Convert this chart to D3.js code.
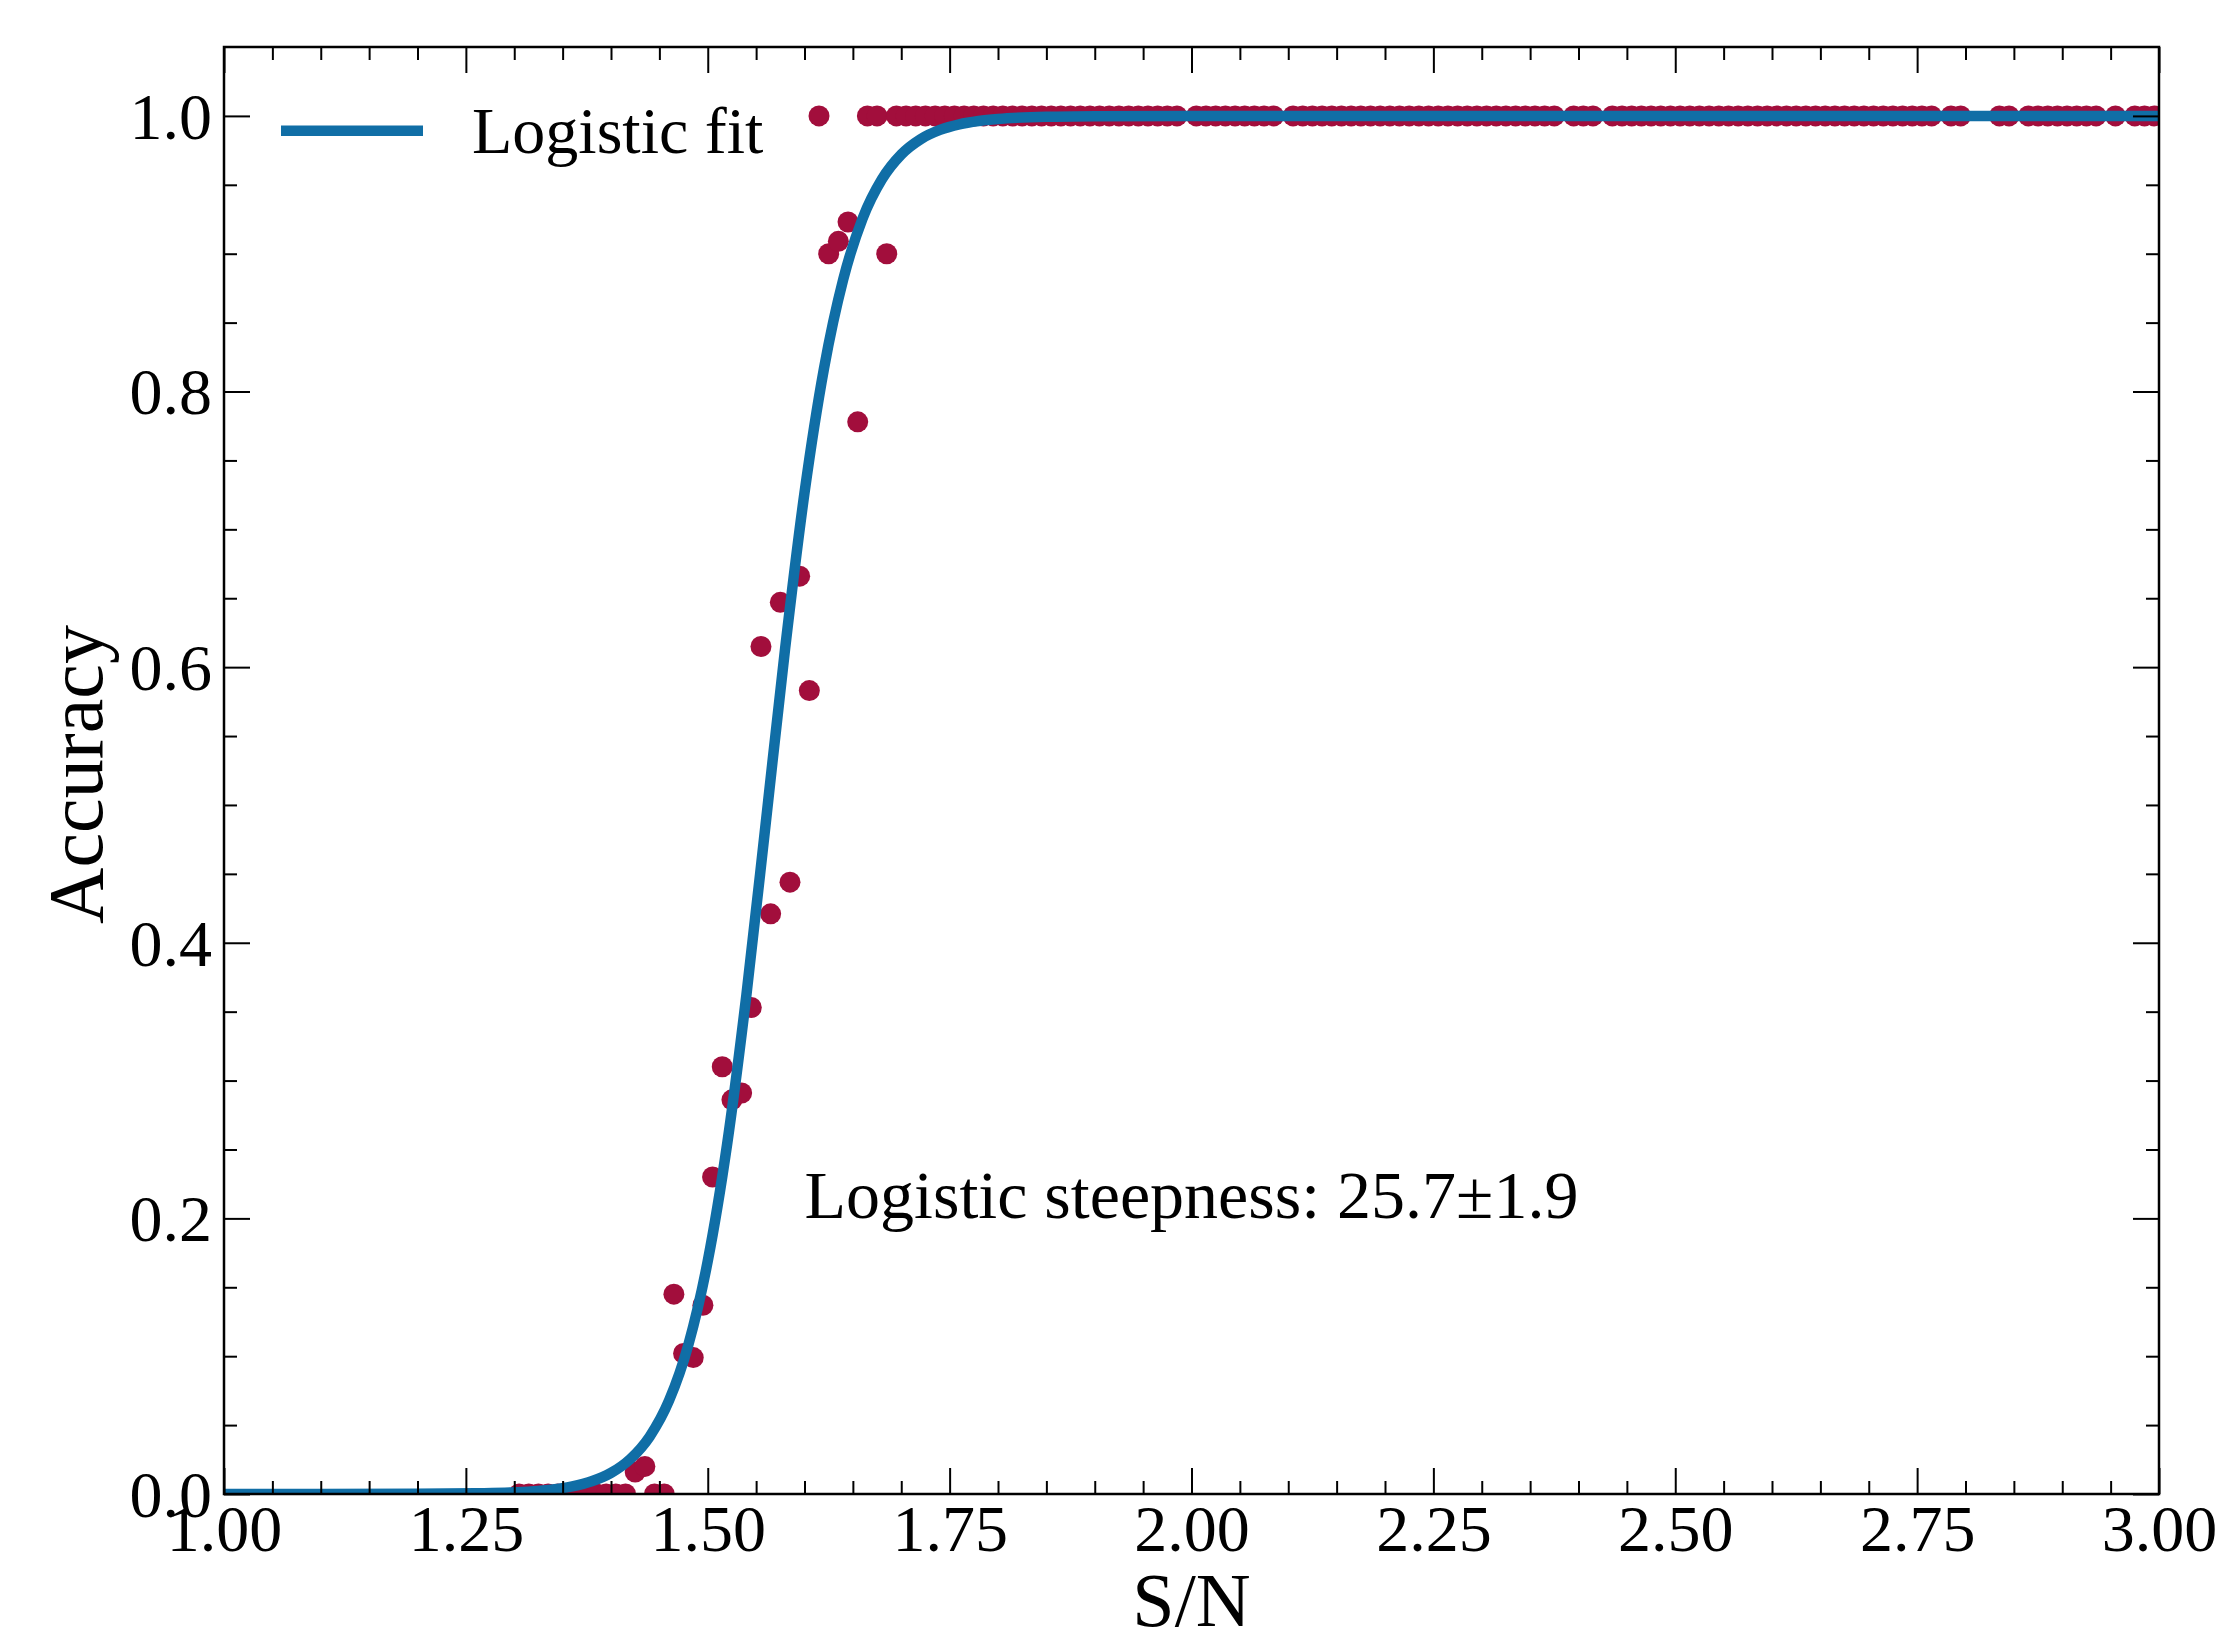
<!DOCTYPE html>
<html>
<head>
<meta charset="utf-8">
<script src="https://cdn.jsdelivr.net/npm/d3@7"></script>
<style>
  body { margin: 0; background: #fff; }
  text { font-family: "Liberation Serif", "DejaVu Serif", serif; fill: #000; }
</style>
</head>
<body>
<div id="chart"></div>
<script>
// measured accuracy below 1.0 (S/N, accuracy)
const partialSnr = [1.305, 1.315, 1.325, 1.335, 1.345, 1.355, 1.365, 1.375, 1.385, 1.395, 1.405, 1.415,
  1.425, 1.435, 1.445, 1.455, 1.465, 1.475, 1.485, 1.495, 1.505, 1.515, 1.525, 1.535, 1.545,
  1.555, 1.565, 1.575, 1.585, 1.595, 1.605, 1.625, 1.635, 1.645, 1.655, 1.685];
const partialAcc = [0, 0, 0, 0, 0, 0, 0, 0, 0, 0, 0, 0,
  0.016, 0.020, 0, 0, 0.145, 0.102, 0.099, 0.137, 0.230, 0.310, 0.286, 0.291, 0.353,
  0.615, 0.421, 0.647, 0.444, 0.666, 0.583, 0.900, 0.909, 0.923, 0.778, 0.900];

// S/N values where accuracy is 1.0
const perfectSnr = [1.615, 1.665, 1.675,
  1.695, 1.705, 1.715, 1.725, 1.735, 1.745, 1.755, 1.765, 1.775, 1.785, 1.795,
  1.805, 1.815, 1.825, 1.835, 1.845, 1.855, 1.865, 1.875, 1.885, 1.895,
  1.905, 1.915, 1.925, 1.935, 1.945, 1.955, 1.965, 1.975, 1.985,
  2.005, 2.015, 2.025, 2.035, 2.045, 2.055, 2.065, 2.075, 2.085,
  2.105, 2.115, 2.125, 2.135, 2.145, 2.155, 2.165, 2.175, 2.185, 2.195,
  2.205, 2.215, 2.225, 2.235, 2.245, 2.255, 2.265, 2.275, 2.285, 2.295,
  2.305, 2.315, 2.325, 2.335, 2.345, 2.355, 2.365, 2.375,
  2.395, 2.405, 2.415,
  2.435, 2.445, 2.455, 2.465, 2.475, 2.485, 2.495,
  2.505, 2.515, 2.525, 2.535, 2.545, 2.555, 2.565, 2.575, 2.585, 2.595,
  2.605, 2.615, 2.625, 2.635, 2.645, 2.655, 2.665, 2.675, 2.685, 2.695,
  2.705, 2.715, 2.725, 2.735, 2.745, 2.755, 2.765,
  2.785, 2.795, 2.835, 2.845,
  2.865, 2.875, 2.885, 2.895, 2.905, 2.915, 2.925, 2.935,
  2.955, 2.975, 2.985, 2.995];

// logistic fit curve, sampled
const fitSnr = [1.00, 1.10, 1.20, 1.26, 1.30, 1.34, 1.36, 1.38, 1.40, 1.42, 1.44, 1.46, 1.48,
  1.50, 1.52, 1.54, 1.56, 1.58, 1.60, 1.62, 1.64, 1.66, 1.68, 1.70, 1.72, 1.74,
  1.76, 1.78, 1.80, 1.85, 1.90, 2.00, 2.50, 3.00];
const fitAcc = [0, 0, 0.0001, 0.0005, 0.0012, 0.0033, 0.0055, 0.0092, 0.0153, 0.0254, 0.0417, 0.0678, 0.1084,
  0.169, 0.2537, 0.3624, 0.4872, 0.6137, 0.7265, 0.8162, 0.8813, 0.9255, 0.954, 0.972, 0.9831, 0.9898,
  0.9939, 0.9963, 0.9978, 0.9994, 0.9998, 1, 1, 1];

const xMajor = [1.00, 1.25, 1.50, 1.75, 2.00, 2.25, 2.50, 2.75, 3.00];
const yMajor = [0.0, 0.2, 0.4, 0.6, 0.8, 1.0];

const W = 2223, H = 1638;
const m = { left: 224, right: 2159, top: 47, bottom: 1494 };
const dotColor = "#a20e3c", lineColor = "#106ea6";

const svg = d3.select("#chart").append("svg")
  .attr("width", W).attr("height", H);

const x = d3.scaleLinear().domain([1, 3]).range([m.left, m.right]);
const y = d3.scaleLinear().domain([0, 1.05]).range([m.bottom, m.top]);

svg.append("defs").append("clipPath").attr("id", "plotclip")
  .append("rect").attr("x", m.left).attr("y", m.top)
  .attr("width", m.right - m.left).attr("height", m.bottom - m.top);

const plot = svg.append("g").attr("clip-path", "url(#plotclip)");

// scatter points
const pts = partialSnr.map((s, i) => [s, partialAcc[i]])
  .concat(perfectSnr.map(s => [s, 1.0]));
plot.selectAll(".pt").data(pts).enter().append("circle")
  .attr("class", "pt")
  .attr("cx", d => x(d[0]))
  .attr("cy", d => y(d[1]))
  .attr("r", 10.5)
  .attr("fill", dotColor);

// fit line
const line = d3.line().x(d => x(d[0])).y(d => y(d[1])).curve(d3.curveMonotoneX);
plot.append("path")
  .datum(fitSnr.map((s, i) => [s, fitAcc[i]]))
  .attr("d", line)
  .attr("fill", "none")
  .attr("stroke", lineColor)
  .attr("stroke-width", 10.5);

// ticks on all sides, pointing inward
const xMinor = d3.range(1, 3.0001, 0.05).filter(v => Math.abs(v / 0.25 - Math.round(v / 0.25)) > 1e-6);
const yMinor = d3.range(0, 1.0001, 0.05).filter(v => Math.abs(v / 0.2 - Math.round(v / 0.2)) > 1e-6);

function styleAxis(g) {
  g.attr("font-family", null).attr("font-size", null);
  g.select(".domain").remove();
  g.selectAll(".tick line").attr("stroke", "#000").attr("stroke-width", 2);
}

const bottomAxis = svg.append("g").attr("transform", `translate(0,${m.bottom})`)
  .call(d3.axisBottom(x).tickValues(xMajor).tickSize(-26).tickFormat(d3.format(".2f")))
  .call(styleAxis);
bottomAxis.selectAll("text").attr("y", 57).attr("dy", null).style("font-size", "66px");

svg.append("g").attr("transform", `translate(0,${m.bottom})`)
  .call(d3.axisBottom(x).tickValues(xMinor).tickSize(-13).tickFormat(""))
  .call(styleAxis);

svg.append("g").attr("transform", `translate(0,${m.top})`)
  .call(d3.axisTop(x).tickValues(xMajor).tickSize(-26).tickFormat(""))
  .call(styleAxis);
svg.append("g").attr("transform", `translate(0,${m.top})`)
  .call(d3.axisTop(x).tickValues(xMinor).tickSize(-13).tickFormat(""))
  .call(styleAxis);

const leftAxis = svg.append("g").attr("transform", `translate(${m.left},0)`)
  .call(d3.axisLeft(y).tickValues(yMajor).tickSize(-26).tickFormat(d3.format(".1f")))
  .call(styleAxis);
leftAxis.selectAll("text").attr("x", -12).attr("dy", "0.34em").style("font-size", "66px");

svg.append("g").attr("transform", `translate(${m.left},0)`)
  .call(d3.axisLeft(y).tickValues(yMinor).tickSize(-13).tickFormat(""))
  .call(styleAxis);

svg.append("g").attr("transform", `translate(${m.right},0)`)
  .call(d3.axisRight(y).tickValues(yMajor).tickSize(-26).tickFormat(""))
  .call(styleAxis);
svg.append("g").attr("transform", `translate(${m.right},0)`)
  .call(d3.axisRight(y).tickValues(yMinor).tickSize(-13).tickFormat(""))
  .call(styleAxis);

// frame
svg.append("rect")
  .attr("x", m.left).attr("y", m.top)
  .attr("width", m.right - m.left).attr("height", m.bottom - m.top)
  .attr("fill", "none").attr("stroke", "#000").attr("stroke-width", 2.5);

// axis titles
svg.append("text")
  .attr("x", (m.left + m.right) / 2).attr("y", 1626)
  .attr("text-anchor", "middle")
  .style("font-size", "76px")
  .text("S/N");

svg.append("text")
  .attr("transform", `translate(102,${(m.top + m.bottom) / 2 + 4}) rotate(-90)`)
  .attr("text-anchor", "middle")
  .style("font-size", "78px")
  .text("Accuracy");

// legend
svg.append("line")
  .attr("x1", 281).attr("x2", 423).attr("y1", 130.7).attr("y2", 130.7)
  .attr("stroke", lineColor).attr("stroke-width", 10.5);
svg.append("text")
  .attr("x", 472).attr("y", 153)
  .style("font-size", "66px")
  .text("Logistic fit");

// annotation
svg.append("text")
  .attr("x", x(1.6)).attr("y", y(0.2))
  .style("font-size", "68px")
  .text("Logistic steepness: 25.7\u00b11.9");
</script>
</body>
</html>
